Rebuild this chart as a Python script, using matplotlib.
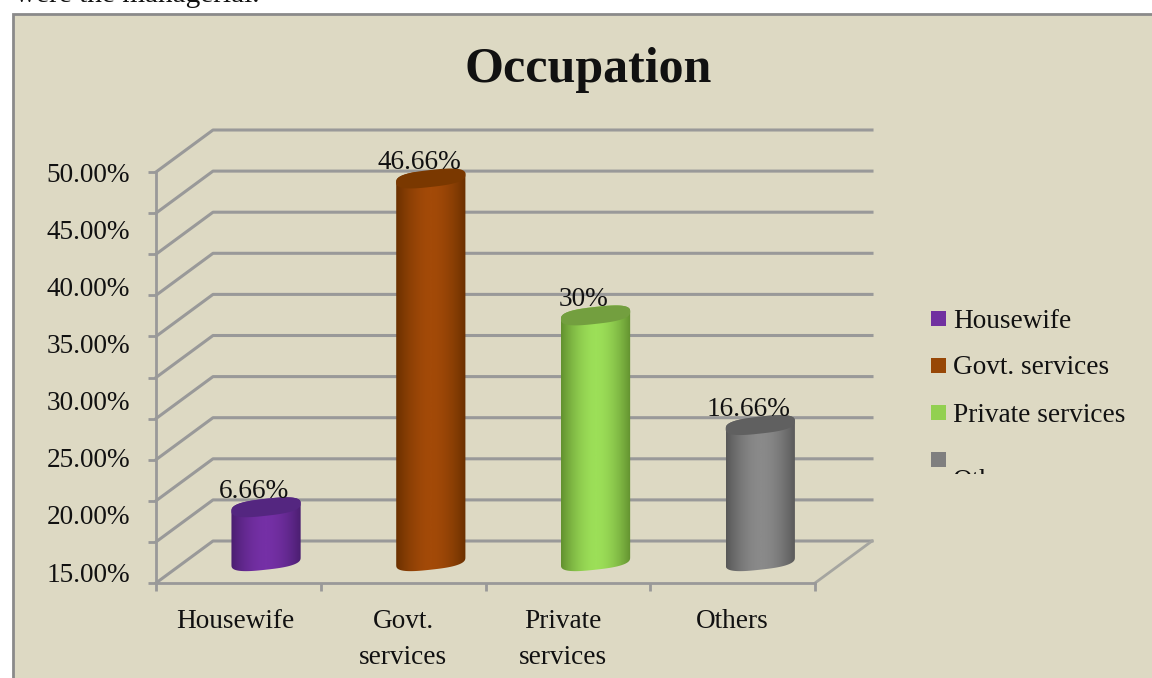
import numpy as np
import matplotlib
matplotlib.use("Agg")
import matplotlib.pyplot as plt
from matplotlib.colors import LinearSegmentedColormap
from matplotlib.patches import Rectangle, PathPatch, Polygon
from matplotlib.path import Path
from matplotlib.transforms import ScaledTranslation

categories = ["Housewife", "Govt. services", "Private services", "Others"]
cat_labels = ["Housewife", "Govt.\nservices", "Private\nservices", "Others"]
values = [6.66, 46.66, 30, 16.66]
value_labels = ["6.66%", "46.66%", "30%", "16.66%"]
axis_labels = ["50.00%", "45.00%", "40.00%", "35.00%", "30.00%", "25.00%", "20.00%", "15.00%"]
grid_values = [0, 5, 10, 15, 20, 25, 30, 35, 40, 45, 50]
mid_colors = ["#7530A6", "#A34A08", "#9CDF58", "#8A8A8A"]
edge_colors = ["#4A1E70", "#6A3000", "#62902F", "#575757"]
top_colors = ["#542680", "#7A3800", "#739F3F", "#606060"]
legend_colors = ["#7030A0", "#974706", "#92D050", "#7F7F7F"]

W, H = 1152, 678
BG = "#DDD9C3"
GRID = "#999999"
INK = "#111111"
SERIF = "Liberation Serif"
FS = 19.6

# plot area in pixels (front plane of the 3d box)
X0, X1 = 156, 815
Y0, Y1 = 583, 172
PX_X = (X1 - X0) / 4
PX_Y = (Y0 - Y1) / 50
DEPTH_X = 57 / PX_X
DEPTH_Y = 42 / PX_Y

fig = plt.figure(figsize=(W / 100, H / 100), dpi=100, facecolor="white")

# page layer, pixel coordinates
page = fig.add_axes([0, 0, 1, 1], zorder=0)
page.set_xlim(0, W)
page.set_ylim(H, 0)
page.axis("off")
page.add_patch(Rectangle((12.5, 13.5), W + 10, H + 10, fc=BG, ec="#8A8A8A", lw=2))
page.text(15, 2, "were the managerial.", family=SERIF, fontsize=FS + 1.5, va="baseline", color=INK)

ax = fig.add_axes([X0 / W, 1 - Y0 / H, (X1 - X0) / W, (Y0 - Y1) / H], zorder=1)
ax.patch.set_visible(False)
ax.set_xlim(0, 4)
ax.set_ylim(0, 50)
for s in ["top", "right"]:
    ax.spines[s].set_visible(False)
for s in ["left", "bottom"]:
    ax.spines[s].set_color(GRID)
    ax.spines[s].set_linewidth(2)

# back wall and side wall grid
for v in grid_values:
    ax.plot([0, DEPTH_X, 4 + DEPTH_X], [v, v + DEPTH_Y, v + DEPTH_Y],
            color=GRID, lw=2.2, clip_on=False, zorder=1, solid_joinstyle="round")
ax.plot([4, 4 + DEPTH_X], [0, DEPTH_Y], color="#A5A5A0", lw=2, clip_on=False, zorder=1)

ax.set_yticks(grid_values)
ax.set_yticklabels([])
ax.set_xticks(range(5))
ax.set_xticklabels([])
ax.tick_params(axis="both", which="major", color=GRID, width=2, length=6)
ax.set_xticks([0.5, 1.5, 2.5, 3.5], minor=True)
ax.set_xticklabels(cat_labels, minor=True, family=SERIF, fontsize=FS, linespacing=1.6, va="top")
ax.tick_params(axis="x", which="minor", length=0, pad=18.5, colors=INK)
# labels in the source are not quite centred under their slots
for lab, nudge in zip(ax.get_xticklabels(minor=True), [-3, 0, -5, 0]):
    lab.set_transform(lab.get_transform() + ScaledTranslation(nudge / 100, 0, fig.dpi_scale_trans))

# cylinders, rounded-off ellipse ends as in the source
BAR_W = 0.42
A = BAR_W / 2
B = 8.5 / PX_Y
SHEAR = 3.8 / PX_Y
t = np.linspace(0, 2 * np.pi, 121)
ex = np.sign(np.cos(t)) * np.abs(np.cos(t)) ** 0.72
es = np.sign(np.sin(t)) * np.abs(np.sin(t)) ** 0.72
ramp = np.abs(np.linspace(-1, 1, 256)) ** 1.8

for i, v in enumerate(values):
    cx = i + 0.5 + DEPTH_X / 2 - 0.005
    base = DEPTH_Y / 2 + 0.1
    top = v + DEPTH_Y / 2

    # outline of the side: lower half of base, then upper half of the top
    side_x = np.r_[cx + A * ex[60:121], cx + A * ex[:61]]
    side_y = np.r_[base + SHEAR * ex[60:121] + B * es[60:121], top + SHEAR * ex[:61] + B * es[:61]]
    clip = PathPatch(Path(np.c_[side_x, side_y]), transform=ax.transData, fc="none", ec="none")
    ax.add_patch(clip)

    cmap = LinearSegmentedColormap.from_list(f"c{i}", [mid_colors[i], edge_colors[i]])
    im = ax.imshow(ramp[None, :], cmap=cmap, vmin=0, vmax=1, aspect="auto", interpolation="bilinear",
                   extent=[cx - A, cx + A, base - B - SHEAR, top + B + SHEAR], zorder=3)
    im.set_clip_path(clip)
    im.set_clip_on(True)

    ax.add_patch(Polygon(np.c_[cx + A * ex, top + SHEAR * ex + B * es], closed=True, fc=top_colors[i],
                         ec="none", zorder=4, clip_on=False))

    ax.annotate(value_labels[i], (cx, top), xytext=(-8.4, 11.5), textcoords="offset points",
                ha="center", va="center", family=SERIF, fontsize=FS, color=INK,
                annotation_clip=False, zorder=5)

ax.set_xlim(0, 4)
ax.set_ylim(0, 50)

# the axis labels do not sit on the ticks in the source chart
label_ys = np.linspace(175, 575, len(axis_labels))
for lab, y in zip(axis_labels, label_ys):
    page.text(130, y, lab, family=SERIF, fontsize=FS, ha="right", va="center", color=INK)

page.text(588, 70, "Occupation", family=SERIF, fontsize=36, fontweight="bold",
          ha="center", va="center", color=INK)

# legend, last entry wrapped and cut off
legend_ys = [319, 366, 413, 460]
for col, y in zip(legend_colors, legend_ys):
    page.add_patch(Rectangle((931, y - 8), 15, 15, fc=col, ec="none"))
for name, y in zip(categories[:3], legend_ys[:3]):
    page.text(953, y + 2, name, family=SERIF, fontsize=FS, va="center", color=INK)
cut = page.text(953, 469, categories[3], family=SERIF, fontsize=FS, va="top", color=INK)
cut.set_clip_path(Rectangle((940, 440), 200, 34, transform=page.transData))
cut.set_clip_on(True)

fig.savefig("out.png", dpi=100, facecolor="white")
